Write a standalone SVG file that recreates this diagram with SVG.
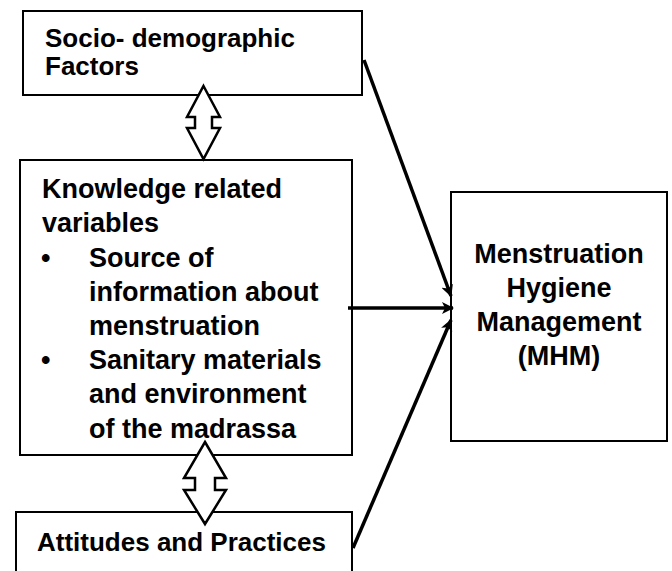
<svg xmlns="http://www.w3.org/2000/svg" width="672" height="571" viewBox="0 0 672 571">
<defs>
<style>
.box{fill:#fff;stroke:#000;stroke-width:2}
.t{font-family:'Liberation Sans',Arial,sans-serif;font-weight:bold;font-size:27px;fill:#000}
.s26{font-size:26px}
.dbl{fill:#fff;stroke:#000;stroke-width:2.5;stroke-linejoin:miter}
.con{stroke:#000;stroke-width:3.5;fill:none}
</style>
<marker id="ah" viewBox="0 0 12 12" refX="11" refY="6" markerWidth="12" markerHeight="12" markerUnits="userSpaceOnUse" orient="auto">
<path d="M0,0 L12,6 L0,12 L3,6 Z" fill="#000"/>
</marker>
</defs>
<rect width="672" height="571" fill="#fff"/>
<g id="node-socio">
<rect class="box" x="23" y="11" width="339" height="84"/>
<text class="t s26" x="45" y="47">Socio- demographic</text>
<text class="t s26" x="45" y="75">Factors</text>
</g>
<g id="node-knowledge">
<rect class="box" x="20" y="160" width="332" height="295"/>
<text class="t" x="42" y="198">Knowledge related</text>
<text class="t" x="42" y="232">variables</text>
<text class="t" x="41" y="267">•</text>
<text class="t" x="89" y="267">Source of</text>
<text class="t" x="89" y="301">information about</text>
<text class="t" x="89" y="335">menstruation</text>
<text class="t" x="41" y="369">•</text>
<text class="t" x="89" y="369">Sanitary materials</text>
<text class="t" x="89" y="403">and environment</text>
<text class="t" x="89" y="438">of the madrassa</text>
</g>
<g id="node-attitudes">
<rect class="box" x="16" y="512" width="336" height="70"/>
<text class="t s26" x="37" y="551">Attitudes and Practices</text>
</g>
<g id="node-mhm">
<rect class="box" x="451" y="192" width="216" height="249"/>
<text class="t" x="559" y="263" text-anchor="middle">Menstruation</text>
<text class="t" x="559" y="297" text-anchor="middle">Hygiene</text>
<text class="t" x="559" y="331" text-anchor="middle">Management</text>
<text class="t" x="559" y="365" text-anchor="middle">(MHM)</text>
</g>
<g id="connectors">
<polygon class="dbl" points="203.5,86 220,117 212,117 212,128 220,128 203.5,159 187,128 195,128 195,117 187,117"/>
<polygon class="dbl" points="205,442 226,478 215,478 215,490 226,490 205,524 184,490 195,490 195,478 184,478"/>
<line class="con" x1="364" y1="60" x2="451" y2="296" marker-end="url(#ah)"/>
<line class="con" x1="348" y1="308" x2="453" y2="308" marker-end="url(#ah)"/>
<line class="con" x1="353" y1="548" x2="451" y2="320" marker-end="url(#ah)"/>
</g>
</svg>
